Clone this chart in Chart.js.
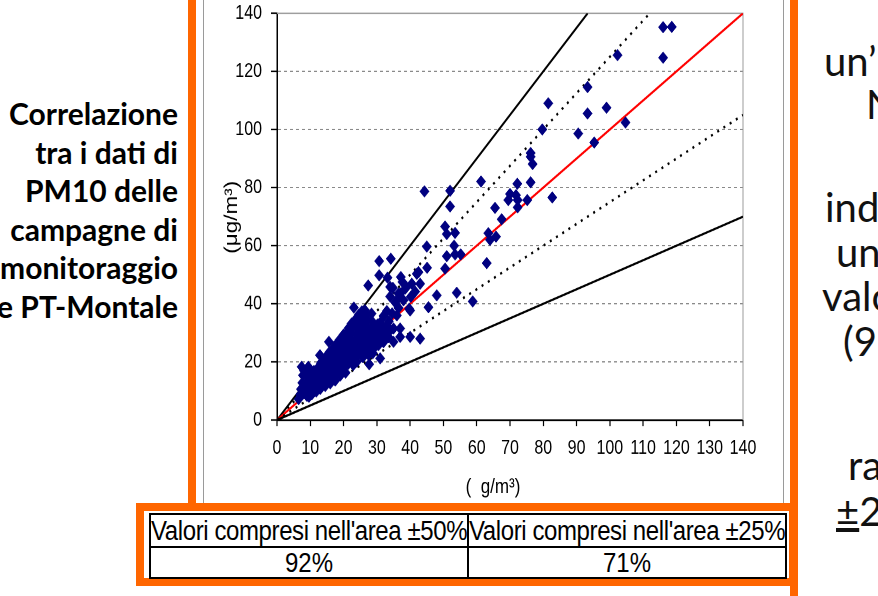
<!DOCTYPE html>
<html>
<head>
<meta charset="utf-8">
<script src="https://cdn.jsdelivr.net/npm/chart.js@4/dist/chart.umd.min.js"></script>
<style>
  html, body { margin: 0; padding: 0; width: 878px; height: 596px; overflow: hidden; background: #fff; }
  .abs { position: absolute; }
  .orange { position: absolute; background: #ff6600; }
  .rule { position: absolute; background: #9a9a9a; width: 1px; }
  #side { left: -62px; top: 94px; width: 240px; text-align: right; font: bold 30px Lato, sans-serif; line-height: 38.6px; color: #000; white-space: nowrap; }
  .frag { position: absolute; font: 40px Lato, sans-serif; color: #111; white-space: nowrap; line-height: 1; }
  #plotWrap { position: absolute; left: 204px; top: -10px; width: 578px; height: 408px; transform: scaleY(1.25); transform-origin: 0 0; }
  #tblBox { position: absolute; left: 136px; top: 503px; width: 661px; height: 83px; box-sizing: border-box; border: 8px solid #ff6600; background: #fff; }
  #tbl { position: absolute; left: 149px; top: 513px; width: 638px; height: 64px; border-collapse: collapse; table-layout: fixed;
         font-family: "Liberation Sans", Arial, sans-serif; color: #000; }
  #tbl td { border: 2px solid #000; padding: 0; text-align: center; white-space: nowrap; overflow: hidden; }
  #tbl td span { display: inline-block; transform: scaleY(1.15); }
  #tbl tr.h td { height: 31px; font-size: 24px; letter-spacing: -0.4px; }
  #tbl tr.v td { height: 29px; font-size: 24px; }
</style>
</head>
<body>
<!-- orange slide frame and inner grey picture frame -->
<div class="orange" style="left:188px;top:0;width:8px;height:511px;"></div>
<div class="orange" style="left:790px;top:0;width:8px;height:596px;"></div>
<div class="rule" style="left:203px;top:0;height:503px;"></div>
<div class="rule" style="left:783px;top:0;height:503px;"></div>

<div id="plotWrap"><canvas id="c" width="578" height="408"></canvas></div>

<div id="side" class="abs">Correlazione<br>tra i dati di<br>PM10 delle<br>campagne di<br>monitoraggio<br>e PT-Montale</div>

<div class="frag" style="left:824px;top:41px;">un’</div>
<div class="frag" style="left:866px;top:84px;">N</div>
<div class="frag" style="left:825px;top:187px;">ind</div>
<div class="frag" style="left:836px;top:232px;">un</div>
<div class="frag" style="left:822px;top:276px;">valo</div>
<div class="frag" style="left:843px;top:321px;">(9</div>
<div class="frag" style="left:848px;top:445px;">ra</div>
<div class="frag" style="left:836px;top:491px;"><span style="text-decoration:underline;">±</span>2</div>

<div id="tblBox"></div>
<table id="tbl">
  <tr class="h"><td><span>Valori compresi nell'area ±50%</span></td><td><span>Valori compresi nell'area ±25%</span></td></tr>
  <tr class="v"><td><span>92%</span></td><td><span>71%</span></td></tr>
</table>

<script>
// PM10 (µg/m3): campaign value (x) against PT-Montale value (y), one entry per day
const campagneX = [
  116, 118.6, 116, 102.3, 93.3, 81.5, 99, 93.3, 104.7, 79.7,
  90.5, 95.3, 76.2, 76.2, 76.8, 61.3, 76.2, 72.2, 52, 70,
  71.8, 82.7, 69.5, 72.3, 75.2, 52, 65.5, 72.3, 67.5, 50.5,
  53.5, 51, 63.5, 65.8, 64, 53.2, 44.3, 45, 51, 53.5,
  55.2, 50.5, 63, 54, 58.8, 48, 45.5, 30.7, 34.2, 27.4,
  30.7, 33.2, 37.2, 42.5, 45.1, 43, 40.5, 23.1, 26.9, 28.4,
  40, 35, 37, 37, 40, 35, 31.9, 43, 31, 27.7,
  22.9, 15.6, 12.9, 7.4, 9.4,
  38, 39.7, 40.2, 36.5, 35.5, 34, 33, 32, 36.5, 38.5,
  41.5, 34.8, 37.7, 36, 31, 29.5, 33.6, 34, 37, 36, 38.9, 42,
  6.5, 7, 7.2, 7.6, 7.8, 8.1, 8, 8.3, 8.6, 8.8,
  9, 9.2, 9.5, 9.7, 9.9, 10.2, 10.4, 10.6, 10.8, 11,
  11.3, 11.5, 11.7, 11.9, 12.2, 12.4, 12.6, 12.8, 13, 13.3,
  13.5, 13.7, 13.9, 14.1, 14.4, 14.6, 14.8, 15, 15.3, 15.5,
  15.7, 15.9, 16.1, 16.3, 16.5, 16.8, 17, 17.2, 17.4, 17.6,
  17.9, 18.1, 18.3, 18.5, 18.7, 19, 19.2, 19.4, 19.6, 19.9,
  20.1, 20.3, 20.5, 20.8, 21, 21.2, 21.4, 21.6, 21.8, 22.1,
  22.3, 22.5, 22.7, 23, 23.2, 23.4, 23.6, 23.9, 24.1, 24.3,
  24.5, 24.8, 25, 25.2, 25.4, 25.7, 25.9, 26.1, 26.3, 26.5,
  26.8, 27, 27.2, 27.5, 27.8, 28, 28.2, 28.5, 28.8, 29,
  29.3, 29.6, 29.9, 30.2, 30.5, 30.8, 31.2, 31.6, 32, 32.5,
  33, 33.5, 34, 34.6, 21.5, 20, 18.8, 17.7, 16.4, 15.2,
  14.3, 13.2, 12.3, 11.1, 10.2, 9.4, 24.6, 23.3, 22.4, 26.4,
  25.5, 20.6, 19, 17.5, 16, 14.5, 13, 11.8, 10.5, 9.6,
  24, 25.8, 28.8, 26.9
];
const montaleY = [
  135.2, 135.3, 124.7, 125.6, 114.6, 109, 107.5, 105.5, 102.4, 100,
  98.6, 95.5, 91.9, 90.6, 88.1, 82.1, 81.8, 81.3, 78.9, 77.8,
  77.4, 76.6, 75.7, 75.7, 75.7, 73.5, 73, 73.2, 69.1, 66.6,
  64.4, 64, 64.3, 63.1, 62, 60, 78.7, 59.7, 56.4, 57,
  57, 52.1, 54, 43.8, 40.8, 42.9, 38.8, 54.7, 55.5, 46.3,
  49.8, 49, 49.2, 50.9, 52.4, 46.9, 46.9, 38.7, 36.6, 36.6,
  37.7, 31.5, 31.5, 28.6, 28.6, 26.9, 28.6, 28, 21.2, 19.2,
  18.9, 26.9, 22.3, 18.3, 18.3,
  41.2, 38.3, 42.4, 43.5, 40.5, 42.5, 37.5, 35.8, 38.6, 45.2,
  44.2, 45.5, 47.5, 36, 33.5, 31.2, 34, 45.8, 43.5, 41.2, 45.8, 50.3,
  7.2, 8.8, 10.6, 12.8, 15.4, 17, 9.2, 11, 12.5, 15.6,
  8.3, 10.2, 12.1, 14.3, 14.6, 9.6, 11.5, 13.4, 15.3, 16.2,
  10.4, 12.6, 14.6, 16.7, 17.6, 11.3, 13.5, 15.5, 17.6, 19.8,
  12.4, 14.5, 16.5, 18.4, 20.6, 13.3, 15.4, 17.5, 19.4, 21.6,
  23.3, 14.4, 16.5, 18.6, 20.5, 22.6, 24.7, 15.6, 17.8, 19.7,
  21.8, 23.8, 25.7, 16.9, 19, 21, 23.1, 25.2, 27.3, 18.1,
  20.2, 22.3, 24.3, 26.4, 28.5, 30.2, 19.3, 21.5, 23.6, 25.6,
  27.7, 29.8, 31.9, 21.1, 23.2, 25.3, 27.4, 29.5, 31.6, 33.6,
  22.6, 24.7, 26.8, 28.8, 30.9, 33, 35, 23.9, 26, 28.1,
  30.2, 32.3, 34.4, 22.4, 25.1, 27.3, 29.4, 31.5, 33.6, 24.5,
  26.6, 28.7, 30.8, 32.9, 25.8, 28, 30.1, 32.2, 26.8, 30.6,
  32.5, 28.5, 30.8, 36.7, 31.6, 29.4, 27.6, 25.9, 23.9, 22.4,
  20.9, 19.4, 17.9, 16.9, 15.9, 17.6, 36.3, 34.2, 33.2, 37.8,
  37.4, 16.3, 15.3, 13.6, 12.6, 11.7, 10.7, 9.8, 8.9, 8,
  20.1, 21.6, 23, 24.7
];

// reference ratios y = k·x : ±50 %, ±25 % and the 1:1 line
const bandRatios = [0.5, 0.75, 1, 1.25, 1.5];
const axisMin = 0, axisMax = 140;
const xTickStep = 10, yTickStep = 20;

const lineLook = {
  0.5:  { color: '#000', width: 1.8, dash: [] },
  0.75: { color: '#000', width: 2,   dash: [2, 5] },
  1:    { color: '#ff0000', width: 1.8, dash: [] },
  1.25: { color: '#000', width: 2,   dash: [2, 5] },
  1.5:  { color: '#000', width: 1.8, dash: [] }
};

const lineSets = bandRatios.map(k => {
  const xEnd = Math.min(axisMax, axisMax / k);
  const look = lineLook[k];
  return {
    type: 'line',
    data: [{ x: axisMin, y: axisMin }, { x: xEnd, y: k * xEnd }],
    borderColor: look.color,
    borderWidth: look.width,
    borderDash: look.dash,
    borderCapStyle: 'butt',
    pointRadius: 0,
    fill: false,
    order: 1
  };
});

const scatterSet = {
  type: 'scatter',
  data: campagneX.map((x, i) => ({ x, y: montaleY[i] })),
  pointStyle: 'rectRot',
  pointRadius: 4.7,
  backgroundColor: '#000080',
  borderColor: '#000080',
  borderWidth: 0.5,
  order: 0
};

// light grey frame on the top and right sides of the plot area
const plotFrame = {
  id: 'plotFrame',
  beforeDatasetsDraw(chart) {
    const { ctx, chartArea: a } = chart;
    ctx.save();
    ctx.strokeStyle = '#9a9a9a';
    ctx.lineWidth = 1;
    ctx.beginPath();
    ctx.moveTo(a.left, a.top);
    ctx.lineTo(a.right, a.top);
    ctx.lineTo(a.right, a.bottom);
    ctx.stroke();
    ctx.restore();
  }
};

// axis unit labels
const unitLabels = {
  id: 'unitLabels',
  afterDraw(chart) {
    const { ctx, chartArea: a } = chart;
    ctx.save();
    ctx.fillStyle = '#000';
    ctx.textAlign = 'center';
    ctx.textBaseline = 'middle';
    ctx.font = '17px "Liberation Sans", Arial, sans-serif';
    ctx.fillText('(  g/m³)', 289, a.bottom + 53.6);
    ctx.translate(28, (a.top + a.bottom) / 2 + 0.5);
    ctx.rotate(-Math.PI / 2);
    ctx.font = '18px "Liberation Sans", Arial, sans-serif';
    ctx.fillText('(μg/m³)', 0, 0);
    ctx.restore();
  }
};

const tickFont = { family: '"Liberation Sans", Arial, sans-serif', size: 16 };

new Chart(document.getElementById('c'), {
  type: 'scatter',
  data: { datasets: [scatterSet, ...lineSets] },
  options: {
    responsive: false,
    animation: false,
    devicePixelRatio: 2,
    layout: { padding: { top: 1.6, right: 39, bottom: 0, left: 0 } },
    plugins: { legend: { display: false }, tooltip: { enabled: false } },
    scales: {
      x: {
        type: 'linear', min: axisMin, max: axisMax,
        ticks: { stepSize: xTickStep, font: tickFont, color: '#000', padding: 8, maxRotation: 0, autoSkip: false },
        grid: { drawOnChartArea: false, tickLength: 5, tickColor: '#000', tickWidth: 1.2 },
        border: { color: '#000', width: 1.5 },
        afterFit(s) { s.height = 64; }
      },
      y: {
        type: 'linear', min: axisMin, max: axisMax,
        ticks: { stepSize: yTickStep, font: tickFont, color: '#000', padding: 9 },
        grid: {
          color: c => (c.tick && (c.tick.value === axisMin || c.tick.value === axisMax)) ? 'rgba(0,0,0,0)' : '#8a8a8a',
          lineWidth: 1, tickLength: 6, tickColor: '#000', tickWidth: 1.2
        },
        border: { color: '#000', width: 1.5, dash: [3, 3] },
        afterFit(s) { s.width = 73; }
      }
    }
  },
  plugins: [plotFrame, unitLabels]
});
</script>
</body>
</html>
